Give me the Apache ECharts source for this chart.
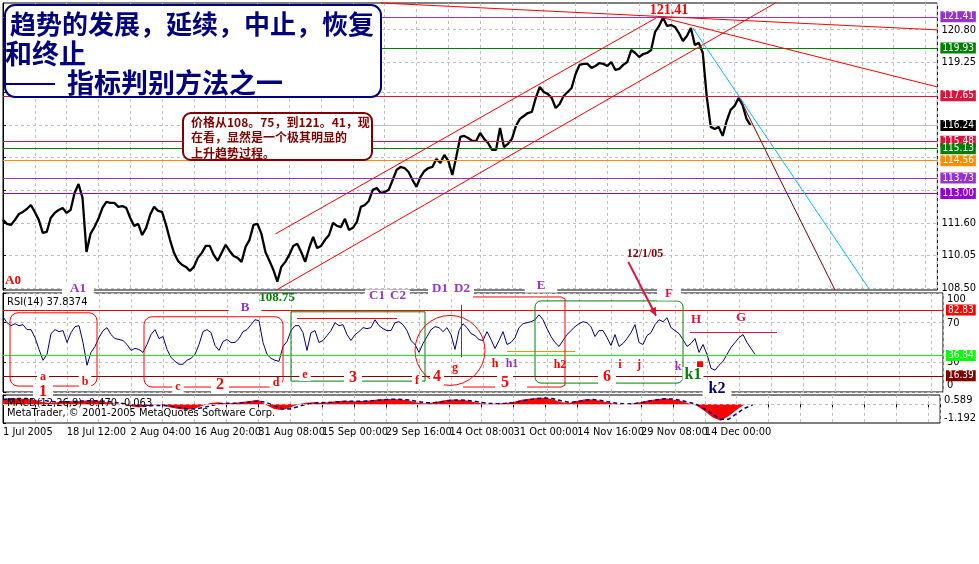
<!DOCTYPE html>
<html><head><meta charset="utf-8">
<script src="https://cdn.jsdelivr.net/npm/echarts@6/dist/echarts.min.js"></script>
<style>html,body{margin:0;padding:0;background:#fff}#c{width:979px;height:564px}</style>
</head><body><div id="c"></div>
<script>
// ---------------- data ----------------
const dateLabels = ['1 Jul 2005','18 Jul 12:00','2 Aug 04:00','16 Aug 20:00','31 Aug 08:00','15 Sep 00:00','29 Sep 16:00','14 Oct 08:00','31 Oct 00:00','14 Nov 16:00','29 Nov 08:00','14 Dec 00:00'];
const priceClose = [
111.74,111.55,111.50,111.74,112.02,112.12,112.26,112.45,112.12,111.74,
111.12,111.17,111.83,112.07,112.21,112.31,112.07,112.21,113.02,113.45,
112.79,110.21,111.07,111.40,111.79,112.31,112.60,112.55,112.55,112.36,
112.40,112.31,111.83,111.45,111.55,111.02,111.36,111.98,112.36,112.17,
112.12,111.50,110.79,110.17,109.79,109.60,109.50,109.31,109.50,109.93,
110.17,110.50,110.50,110.07,109.79,110.17,110.55,110.26,110.02,109.93,
109.74,110.45,110.79,111.50,111.55,111.07,110.21,109.79,109.36,108.80,
109.50,109.74,110.07,110.50,110.60,110.21,109.74,110.40,110.93,110.40,
110.50,110.79,111.02,111.60,111.45,111.40,111.79,111.26,111.36,111.64,
112.36,112.45,112.64,113.17,113.26,113.02,113.07,113.17,113.64,114.12,
114.26,114.21,114.02,113.64,113.31,113.79,114.07,114.21,114.26,114.64,
114.45,114.83,114.55,113.88,114.74,115.69,115.74,115.64,115.50,115.50,
115.88,115.60,115.40,115.07,115.07,116.12,115.21,115.36,115.60,116.21,
116.55,116.69,116.83,116.88,117.55,118.07,117.83,117.74,117.55,117.07,
117.26,117.64,117.83,118.02,118.69,119.12,119.17,119.17,118.98,119.07,
119.21,119.17,119.07,119.26,118.88,118.93,119.12,119.26,119.83,119.69,
119.50,119.64,119.69,119.83,120.69,120.98,121.38,120.98,121.02,120.93,
120.64,120.26,120.50,120.88,120.07,120.17,119.69,117.60,116.17,116.07,
116.17,115.74,116.45,116.98,117.17,117.55,117.21,116.55,116.24];
const rsiValues = [
76,70,67,69,67,68,63,63,55,43,
32,38,59,63,61,62,50,60,66,67,
50,27,40,46,55,62,65,58,54,53,
52,48,42,44,43,40,48,58,63,54,
56,43,35,31,28,28,32,34,38,48,
61,63,60,47,42,51,53,50,50,54,
61,63,68,73,72,50,38,34,32,31,
46,51,62,67,67,60,42,60,62,50,
52,57,62,70,67,68,58,52,58,61,
65,64,65,73,67,64,62,62,70,71,
68,62,52,48,40,49,56,63,66,65,
61,65,58,43,62,69,65,59,57,53,
52,61,53,44,52,61,48,50,55,65,
69,70,71,73,78,73,64,56,50,46,
52,58,62,66,69,71,70,66,56,62,
62,55,47,58,46,49,54,60,68,50,
48,57,60,68,73,71,75,65,62,59,
53,46,49,54,40,48,38,24,22,27,
31,38,45,50,55,58,50,44,38];
const macdHist = [
0.35,0.38,0.36,0.33,0.28,0.12,0.08,0.15,0.2,0.18,
0.22,0.25,0.22,0.12,0.05,-0.02,-0.12,-0.2,-0.12,0.0,
-0.05,-0.2,-0.3,-0.35,-0.28,-0.1,0.08,0.12,0.05,0.08,
0.15,0.2,0.28,-0.05,-0.3,-0.38,-0.2,0.0,0.1,0.12,
0.08,0.15,0.2,0.22,0.18,0.2,0.24,0.3,0.34,0.33,
0.3,0.22,0.1,0.05,0.12,0.22,0.3,0.28,0.25,0.15,
0.05,0.02,0.05,0.08,0.15,0.28,0.35,0.4,0.42,0.3,
0.12,0.08,0.22,0.32,0.3,0.2,0.1,0.02,0.0,0.05,
0.15,0.25,0.32,0.38,0.3,0.2,0.05,-0.1,-0.45,-0.85,
-1.05,-0.75,-0.35,0.0,0.03];
const macdSignal = [
0.30,0.33,0.36,0.36,0.33,0.25,0.18,0.15,0.16,0.18,
0.20,0.22,0.22,0.18,0.12,0.05,-0.03,-0.10,-0.12,-0.08,
-0.07,-0.12,-0.20,-0.28,-0.30,-0.22,-0.10,0.02,0.06,0.06,
0.10,0.15,0.20,0.12,-0.10,-0.28,-0.30,-0.15,0.00,0.08,
0.10,0.12,0.16,0.19,0.19,0.19,0.21,0.26,0.30,0.32,
0.31,0.26,0.18,0.10,0.10,0.16,0.24,0.27,0.26,0.20,
0.12,0.05,0.04,0.06,0.10,0.20,0.30,0.36,0.40,0.35,
0.22,0.12,0.16,0.26,0.30,0.24,0.15,0.06,0.02,0.03,
0.10,0.20,0.28,0.35,0.33,0.25,0.12,-0.02,-0.30,-0.65,
-0.95,-0.95,-0.60,-0.25,-0.05];
const priceGridTicks = [108.50,110.05,111.60,113.15,114.70,116.25,117.80,119.25,120.80];
const priceTickLabels = [108.50,110.05,111.60,119.25,120.80];
const rsiTickLabels = [0,30,70,100];
const macdTickLabels = [0.589,-1.192];
const priceLevels = [121.41,119.93,117.65,116.24,115.48,115.13,114.56,113.73,113.00];
const rsiLevels = [82.83,36.84,16.39];
// trend lines: [slot index, price]
const channelUpper = [[68.5,111.07],[164.25,121.36]];
const channelLower = [[68.75,108.40],[194.25,122.07]];
const topResistance = [[95,122.07],[235,120.79]];
const peakFallLine = [[166,121.36],[235,118.07]];
const cyanFallLine = [[173.5,120.88],[218,108.40]];
const darkFallLine = [[185.5,117.45],[209.25,108.40]];

// ---------------- styles ----------------
const FA = '"Liberation Sans Narrow","DejaVu Sans Condensed","Liberation Sans",sans-serif';
const FS = '"Liberation Serif","DejaVu Serif",serif';
const FC = '"Noto Sans CJK SC",sans-serif';
const LAST = 235;
const priceLevelStyle = [
  {c:'#9932CC', s:0},{c:'#008000', s:0},{c:'#DC143C', s:0},{c:'#C0C0C0', s:92, bg:'#000000'},
  {c:'#DC143C', s:0},{c:'#008000', s:0},{c:'#FF8C00', s:0},{c:'#9932CC', s:0},{c:'#9400D3', s:0}];
const rsiLevelStyle = [{c:'#FF0000'},{c:'#00FF00'},{c:'#800000'}];

function levelLabel(bg){
  return {show:true, position:'end', formatter:'{b}', color:'#fff', backgroundColor:bg,
          padding:[1,2,0,2], fontSize:10, lineHeight:10, fontFamily:FA, distance:3};
}
const priceMarks = priceLevels.map((v,k)=>{
  const st = priceLevelStyle[k];
  return [{coord:[st.s, v], name:v.toFixed(2), lineStyle:{color:st.c, width:1, type:'solid'}, label:levelLabel(st.bg||st.c)},
          {coord:[LAST, v]}];
});
function seg(pts, color, w){
  return [{coord:pts[0], lineStyle:{color:color, width:w||1, type:'solid'}, label:{show:false}}, {coord:pts[1]}];
}
priceMarks.push(seg(channelUpper,'#FF0000'), seg(channelLower,'#FF0000'), seg(topResistance,'#FF0000'),
  seg(peakFallLine,'#FF0000'), seg(cyanFallLine,'#00BFFF'), seg(darkFallLine,'#800000'));

const rsiMarks = rsiLevels.map((v,k)=>[
  {coord:[0,v], name:v.toFixed(2), lineStyle:{color:rsiLevelStyle[k].c, width:1, type:'solid'}, label:levelLabel(rsiLevelStyle[k].c)},
  {coord:[LAST,v]}]);
rsiMarks.push(
  seg([[73.5,75],[98.5,75]],'#FF0000'),
  seg([[114.5,88],[114.5,35]],'#FF0000'),
  seg([[126,41],[143,41]],'#FF8C00'),
  seg([[171.75,60],[193.5,60]],'#DC143C'));

const gridLine = {show:true, lineStyle:{color:'#C0C0C0', type:[3,3], width:1}};
function xAx(g, show){
  return {type:'value', gridIndex:g, min:0, max:LAST, interval:8,
    axisLine:{show:false},
    axisTick:{show:show, length:3, lineStyle:{color:'#000'}},
    axisLabel:{show:show, formatter:v=> (v%16===0 && dateLabels[v/16]) ? dateLabels[v/16] : '',
      align:'left', color:'#000', fontSize:11, fontFamily:FA, margin:4},
    splitLine:gridLine};
}
const axLine = {show:true, lineStyle:{color:'#000', width:1}};
const option = {
  animation:false,
  backgroundColor:'#fff',
  grid:[
    {left:3, right:36, top:3, height:287, show:true, borderColor:'#000', borderWidth:1},
    {left:3, right:36, top:293, height:99, show:true, borderColor:'#000', borderWidth:1},
    {left:3, right:36, top:395, height:28, show:true, borderColor:'#000', borderWidth:1}],
  xAxis:[xAx(0,false), xAx(1,false), xAx(2,true)],
  yAxis:[
    {type:'value', gridIndex:0, position:'right', min:108.40, max:122.07, axisLine:axLine,
     axisTick:{show:true, length:3, customValues:priceGridTicks, lineStyle:{color:'#000'}},
     axisLabel:{customValues:priceTickLabels, formatter:v=>v.toFixed(2), color:'#000', fontSize:11, fontFamily:FA, margin:4},
     splitLine:gridLine},
    {type:'value', gridIndex:1, position:'right', min:0, max:100, axisLine:axLine,
     axisTick:{show:true, length:3, customValues:[0,30,70,100], lineStyle:{color:'#000'}},
     axisLabel:{customValues:rsiTickLabels, color:'#000', fontSize:11, fontFamily:FA, margin:4,
       formatter:v=> v===100 ? '{t|100}' : (v===0 ? '{b|0}' : '{n|'+v+'}'),
       rich:{t:{padding:[12,0,0,0], fontSize:11, fontFamily:FA, color:'#000'},
             b:{padding:[0,0,14,0], fontSize:11, fontFamily:FA, color:'#000'},
             n:{fontSize:11, fontFamily:FA, color:'#000'}}},
     splitLine:gridLine},
    {type:'value', gridIndex:2, position:'right', min:-1.192, max:0.589, axisLine:axLine,
     axisTick:{show:true, length:3, customValues:macdTickLabels, lineStyle:{color:'#000'}},
     axisLabel:{customValues:macdTickLabels, color:'#000', fontSize:11, fontFamily:FA, margin:4,
       formatter:v=> v>0 ? '{t|'+v.toFixed(3)+'}' : '{b|'+v.toFixed(3)+'}',
       rich:{t:{padding:[10,0,0,0], fontSize:11, fontFamily:FA, color:'#000'},
             b:{padding:[0,0,10,0], fontSize:11, fontFamily:FA, color:'#000'}}},
     splitLine:{show:false}}],
  series:[
    {type:'line', name:'price', xAxisIndex:0, yAxisIndex:0, data:priceClose.map((v,i)=>[i,v]),
     showSymbol:false, lineStyle:{color:'#000', width:2.3}, z:3,
     markLine:{silent:true, symbol:['none','none'], animation:false, data:priceMarks}},
    {type:'line', name:'rsi', xAxisIndex:1, yAxisIndex:1, data:rsiValues.map((v,i)=>[i,v]),
     showSymbol:false, lineStyle:{color:'#000080', width:1},
     markLine:{silent:true, symbol:['none','none'], animation:false, data:rsiMarks},
     markPoint:{silent:true, animation:false, data:[{coord:[174.25,28], symbol:'rect', symbolSize:6, itemStyle:{color:'#FF0000'}, label:{show:false}}]}},
    {type:'line', name:'macd', xAxisIndex:2, yAxisIndex:2, data:macdHist.map((v,j)=>[2*j,v]),
     showSymbol:false, lineStyle:{width:0}, areaStyle:{color:'#FF0000', opacity:1},
     markLine:{silent:true, symbol:['none','none'], animation:false,
       data:[[{coord:[0,0], lineStyle:{color:'#C0C0C0', type:[3,3], width:1}, label:{show:false}},{coord:[LAST,0]}]]}},
    {type:'line', name:'signal', xAxisIndex:2, yAxisIndex:2, data:macdSignal.map((v,j)=>[2*j,v]),
     showSymbol:false, lineStyle:{color:'#000080', width:1.5, type:[4,3]}}
  ]
};
const chart = echarts.init(document.getElementById('c'));
chart.setOption(option);

// ---------------- annotations ----------------
const P = (g, pt) => chart.convertToPixel({gridIndex:g}, pt);
const G = [];
const Z = 50;
// title box
G.push({type:'rect', z:Z, shape:{x:5,y:5,width:376,height:92,r:10}, style:{fill:'#fff', stroke:'#000080', lineWidth:2}});
G.push({type:'text', z:Z+1, style:{text:'趋势的发展，延续，中止，恢复', x:10, y:24, fill:'#000080', fontSize:26, fontWeight:'bold', fontFamily:FC, verticalAlign:'middle'}});
G.push({type:'text', z:Z+1, style:{text:'和终止', x:5, y:54, fill:'#000080', fontSize:27, fontWeight:'bold', fontFamily:FC, verticalAlign:'middle'}});
G.push({type:'line', z:Z+1, shape:{x1:4,y1:84,x2:55,y2:84}, style:{stroke:'#000080', lineWidth:2}});
G.push({type:'text', z:Z+1, style:{text:'指标判别方法之一', x:67, y:83, fill:'#000080', fontSize:27, fontWeight:'bold', fontFamily:FC, verticalAlign:'middle'}});
// comment box
G.push({type:'rect', z:Z, shape:{x:183,y:113,width:189,height:47,r:8}, style:{fill:'#fff', stroke:'#800000', lineWidth:2}});
['价格从108。75，到121。41，现','在看，显然是一个极其明显的','上升趋势过程。'].forEach((t,k)=>{
  G.push({type:'text', z:Z+1, style:{text:t, x:191, y:122+k*15.5, fill:'#800000', fontSize:12, fontWeight:'bold', fontFamily:FC, verticalAlign:'middle'}});
});
// RSI boxes
const rsiBoxes = [
  {a:[1.75,80], b:[23.5,6], c:'#FF0000', r:8},
  {a:[35.25,76], b:[70,5], c:'#FF0000', r:8},
  {a:[72,81], b:[105.5,11], c:'#008000', r:0},
  {a:[133,92], b:[170,9], c:'#008000', r:6}];
rsiBoxes.forEach(bx=>{
  const p1 = P(1,bx.a), p2 = P(1,bx.b);
  G.push({type:'rect', z:Z-5, shape:{x:p1[0], y:p1[1], width:p2[0]-p1[0], height:p2[1]-p1[1], r:bx.r}, style:{fill:'none', stroke:bx.c, lineWidth:1}});
});
const boxE = [[117.5,96],[139.5,96],[140.5,94],[140.5,7],[139.5,5],[131,5]];
G.push({type:'polyline', z:Z-5, shape:{points:boxE.map(p=>P(1,p))}, style:{fill:'none', stroke:'#FF0000', lineWidth:1}});
const box5 = [[115,5],[123,5]];
G.push({type:'polyline', z:Z-5, shape:{points:box5.map(p=>P(1,p))}, style:{fill:'none', stroke:'#FF0000', lineWidth:1}});
const c0 = P(1,[111.75,42]), c1 = P(1,[120.5,42]);
G.push({type:'circle', z:Z-5, shape:{cx:c0[0], cy:c0[1], r:c1[0]-c0[0]}, style:{fill:'none', stroke:'#FF0000', lineWidth:1}});
// arrow 12/1/05
const a0 = P(0,[157.25,109.74]), a1 = P(1,[163.25,77]);
G.push({type:'line', z:Z, shape:{x1:a0[0],y1:a0[1],x2:a1[0],y2:a1[1]}, style:{stroke:'#DC143C', lineWidth:2}});
(function(){
  const dx=a1[0]-a0[0], dy=a1[1]-a0[1], L=Math.hypot(dx,dy), ux=dx/L, uy=dy/L;
  const h=8, w=4;
  G.push({type:'polygon', z:Z, shape:{points:[[a1[0],a1[1]],[a1[0]-ux*h-uy*w, a1[1]-uy*h+ux*w],[a1[0]-ux*h+uy*w, a1[1]-uy*h-ux*w]]}, style:{fill:'#DC143C'}});
})();
// labels: text, x, y, color, size, horizontal white padding (-1 = no background)
const annoLabels = [
  ['A0',13,281,'#FF0000',13,-1],['A1',78,289,'#9932CC',13,8],['B',245,308,'#9932CC',13,12],
  ['108.75',277,298,'#008000',13,-1],['C1',377,296,'#9932CC',13,4],['C2',398,296,'#9932CC',13,4],
  ['D1',440,289,'#9932CC',13,4],['D2',462,289,'#9932CC',13,4],['E',541,286,'#9932CC',13,12],
  ['F',669,294,'#DC143C',13,8],['H',696,320,'#DC143C',13,-1],['G',741,318,'#DC143C',13,-1],
  ['12/1/05',645,254,'#800000',12,-1],['121.41',669,10,'#FF0000',14,-1],
  ['a',43,377,'#FF0000',12,3],['b',85,382,'#FF0000',12,3],['1',43,392,'#FF0000',16,6],
  ['c',178,387,'#FF0000',12,3],['2',220,385,'#FF0000',16,5],['d',276,383,'#FF0000',12,3],
  ['e',305,375,'#FF0000',12,3],['3',353,378,'#FF0000',16,5],['f',417,381,'#FF0000',12,3],
  ['4',437,377,'#FF0000',16,3],['g',455,368,'#FF0000',12,-1],['h',495,364,'#FF0000',12,-1],
  ['h1',512,364,'#9932CC',12,-1],['5',505,383,'#FF0000',16,4],['h2',560,365,'#FF0000',12,-1],
  ['6',607,377,'#FF0000',16,5],['i',620,365,'#FF0000',12,-1],['j',639,365,'#FF0000',12,-1],
  ['k',678,367,'#9932CC',12,-1],['k1',693,375,'#008000',16,2],['k2',717,389,'#000080',16,6]];
annoLabels.forEach(l=>{
  const st = {text:l[0], x:l[1], y:l[2], fill:l[3], fontSize:l[4], fontWeight:'bold', fontFamily:FS, align:'center', verticalAlign:'middle'};
  if (l[5] >= 0) { st.backgroundColor = '#fff'; st.padding = [0,l[5]]; }
  G.push({type:'text', z:Z+2, style:st});
});
G.push({type:'text', z:Z+2, style:{text:'RSI(14) 37.8374', x:7, y:302, fill:'#000', fontSize:11, fontFamily:FA, verticalAlign:'middle'}});
G.push({type:'text', z:Z+2, style:{text:'MACD(12,26,9) -0.470 -0.063', x:7, y:403, fill:'#000', fontSize:11, fontFamily:FA, verticalAlign:'middle'}});
G.push({type:'text', z:Z+2, style:{text:'MetaTrader, © 2001-2005 MetaQuotes Software Corp.', x:7, y:413, fill:'#000', fontSize:11, fontFamily:FA, verticalAlign:'middle'}});
chart.setOption({graphic:G});
</script></body></html>
